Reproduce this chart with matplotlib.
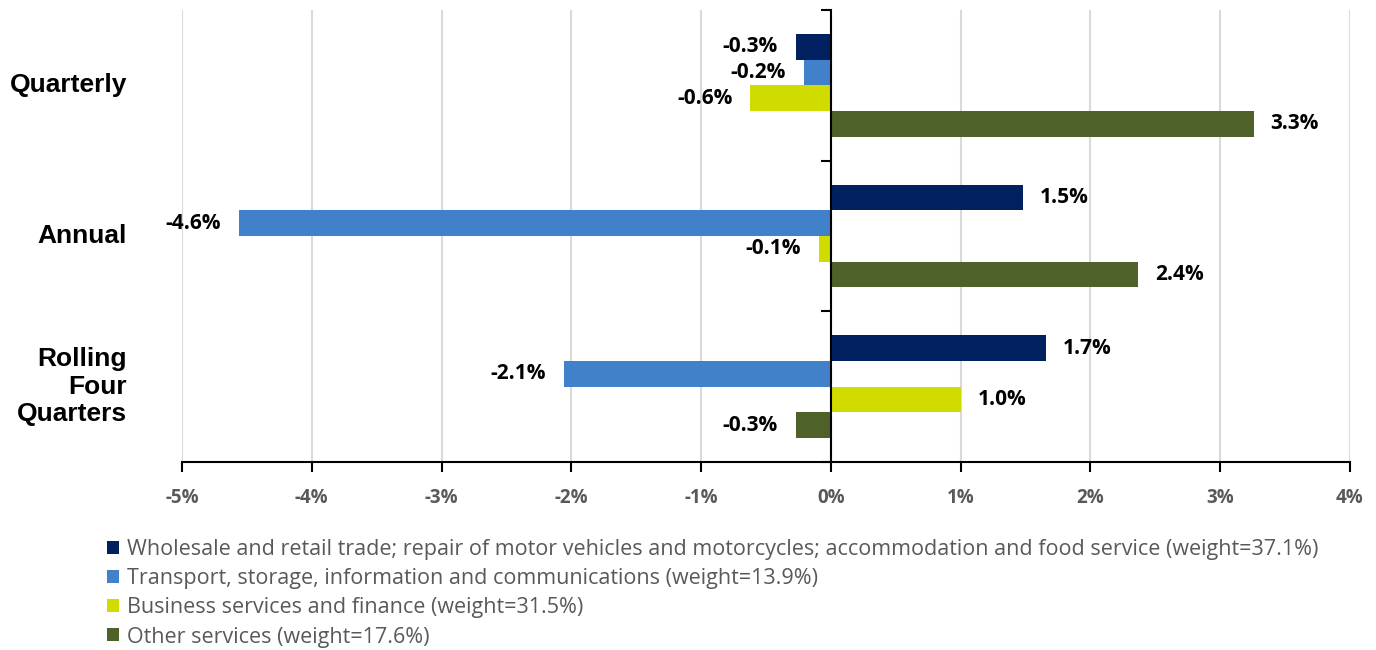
import numpy as np
import matplotlib.pyplot as plt
from matplotlib.patches import Patch
from matplotlib.ticker import FuncFormatter

periods = ['Quarterly', 'Annual', 'Rolling\nFour\nQuarters']
series = [
    'Wholesale and retail trade; repair of motor vehicles and motorcycles; accommodation and food service (weight=37.1%)',
    'Transport, storage, information and communications (weight=13.9%)',
    'Business services and finance (weight=31.5%)',
    'Other services (weight=17.6%)',
]
wholesale = [-0.27, 1.48, 1.66]
transport = [-0.21, -4.56, -2.06]
business = [-0.62, -0.09, 1.0]
other = [3.26, 2.37, -0.27]
colors = ['#002060', '#4181CA', '#D0DC00', '#4E6128']

label_font = ['Open Sans', 'DejaVu Sans']
grey = '#595959'

fig = plt.figure(figsize=(13.76, 6.5), dpi=100)
ax = fig.add_axes([182 / 1376, 1 - 462 / 650, (1350 - 182) / 1376, (462 - 10) / 650])

y = np.arange(len(periods))
h = 0.17
for i, (vals, col) in enumerate(zip([wholesale, transport, business, other], colors)):
    pos = y + (i - 1.5) * h
    ax.barh(pos, vals, height=h, color=col, zorder=3)
    for p, v in zip(pos, vals):
        off = 12 if v >= 0 else -13
        ax.annotate(f'{v:.1f}%', (v, p), xytext=(off, 0), textcoords='offset points',
                    ha='left' if v >= 0 else 'right', va='center',
                    fontsize=15, fontweight='bold', family=label_font, color='black')

ax.set_xlim(-5, 4)
ax.set_ylim(2.5, -0.5)
ax.set_xticks(np.arange(-5, 5, 1))
ax.xaxis.set_major_formatter(FuncFormatter(lambda v, _: f'{v:.0f}%'))
for t in ax.get_xticklabels():
    t.set_fontweight('bold')
    t.set_family(label_font)
    t.set_color(grey)
    t.set_fontsize(13.5)
ax.tick_params(axis='x', length=7, width=1.5, pad=12, direction='out')
ax.grid(axis='x', color='#D9D9D9', linewidth=1.5, zorder=0)

# y axis sits on zero with ticks at group boundaries
ax.spines['left'].set_position(('data', 0))
ax.spines['left'].set_linewidth(1.5)
ax.spines['left'].set_zorder(4)
ax.spines['bottom'].set_linewidth(1.5)
ax.spines['top'].set_visible(False)
ax.spines['right'].set_visible(False)
ax.set_yticks([-0.5, 0.5, 1.5, 2.5])
ax.set_yticklabels([])
ax.tick_params(axis='y', length=7, width=1.5, direction='out')

for yy, name in zip(y, periods):
    ax.text(-0.047, yy, name, transform=ax.get_yaxis_transform(), ha='right', va='center',
            multialignment='right', fontsize=19, fontweight='bold',
            family=['Liberation Sans', 'DejaVu Sans'], linespacing=1.2)

handles = [Patch(facecolor=c) for c in colors]
fig.legend(handles, series, loc='upper left', bbox_to_anchor=(107 / 1376, 1 - 539 / 650),
           frameon=False, handlelength=0.55, handleheight=0.55, handletextpad=0.4,
           labelspacing=0.38, borderpad=0, borderaxespad=0,
           prop={'family': label_font, 'size': 15.5}, labelcolor=grey)

fig.savefig('out.png', dpi=100)
